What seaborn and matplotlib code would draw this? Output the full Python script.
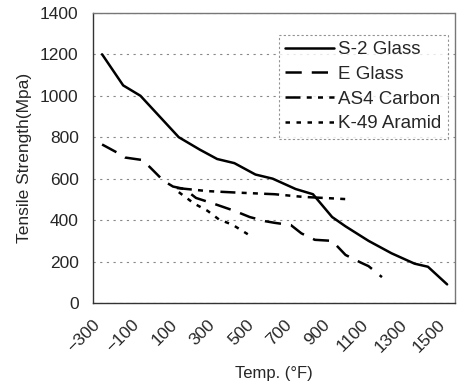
import numpy as np
import pandas as pd
import matplotlib
matplotlib.use('Agg')
import matplotlib.pyplot as plt
import seaborn as sns
from matplotlib.ticker import MultipleLocator

# values (temperature in F, strength in MPa)
s2_temp = [-250, -140, -50, 150, 260, 350, 440, 550, 640, 760, 850, 950, 1020, 1140, 1260, 1380, 1450, 1550]
s2_strength = [1200, 1050, 1000, 800, 740, 695, 675, 620, 600, 550, 525, 415, 370, 300, 240, 190, 175, 90]

eglass_temp = [-250, -170, -130, -40, 0, 70, 120, 180, 240, 330, 440, 520, 600, 650, 735, 790, 860, 950, 1020, 1100, 1140, 1210]
eglass_strength = [765, 725, 702, 690, 655, 590, 562, 550, 507, 480, 445, 415, 395, 387, 376, 336, 305, 300, 232, 195, 178, 125]

as4_temp = [140, 300, 450, 650, 800, 950, 1050]
as4_strength = [555, 540, 533, 525, 512, 505, 500]

k49_temp = [150, 230, 300, 360, 430, 510]
k49_strength = [535, 480, 445, 403, 378, 332]

series_names = ['S-2 Glass', 'E Glass', 'AS4 Carbon', 'K-49 Aramid']
series_temp = [s2_temp, eglass_temp, as4_temp, k49_temp]
series_strength = [s2_strength, eglass_strength, as4_strength, k49_strength]
series_dash = ['-', (0, (6.5, 4)), (0, (6, 2.5, 2, 2.5, 2, 2.5)), (0, (1.8, 2.6))]

sns.set_style('white')
plt.rcParams['font.family'] = ['Liberation Sans', 'DejaVu Sans']

fig = plt.figure(figsize=(4.58, 3.90), dpi=100)
ax = fig.add_axes([0.202, 0.223, 0.791, 0.744])

for name, t, s, ls in zip(series_names, series_temp, series_strength, series_dash):
    df = pd.DataFrame({'temp': t, 'strength': s})
    sns.lineplot(data=df, x='temp', y='strength', ax=ax, color='black',
                 linewidth=1.8, linestyle=ls, label=name)

ax.set_xlim(-300, 1590)
ax.set_ylim(0, 1400)
ax.set_xticks(np.arange(-300, 1600, 200))
ax.xaxis.set_minor_locator(MultipleLocator(100))
ax.set_yticks(np.arange(0, 1401, 200))
ax.tick_params(axis='both', which='both', direction='in', length=3, width=0.8,
               color='#555555', labelsize=12.5, pad=10)
ax.tick_params(axis='x', which='major', pad=10)
plt.setp(ax.get_xticklabels(), rotation=45, ha='right', rotation_mode='anchor')

ax.yaxis.grid(True, linestyle=(0, (2, 4)), color='#888888', linewidth=0.8)
ax.set_axisbelow(True)

ax.set_xlabel('Temp. (°F)', fontsize=12, labelpad=8)
ax.set_ylabel('Tensile Strength(Mpa)', fontsize=12.5, labelpad=6)

for side in ['left', 'bottom']:
    ax.spines[side].set_color('#333333')
    ax.spines[side].set_linewidth(1.0)
for side in ['top', 'right']:
    ax.spines[side].set_color('#777777')
    ax.spines[side].set_linewidth(1.0)
    ax.spines[side].set_linestyle((0, (2, 1)))

leg = ax.legend(loc='upper right', bbox_to_anchor=(0.98, 0.925), fontsize=13.5,
                handlelength=2.6, handletextpad=0.2, labelspacing=0.4,
                borderpad=0.35, borderaxespad=0, fancybox=False, frameon=True)
leg.get_frame().set_edgecolor('#777777')
leg.get_frame().set_linestyle((0, (2, 2)))
leg.get_frame().set_linewidth(0.8)

fig.savefig('out.png', dpi=100)
